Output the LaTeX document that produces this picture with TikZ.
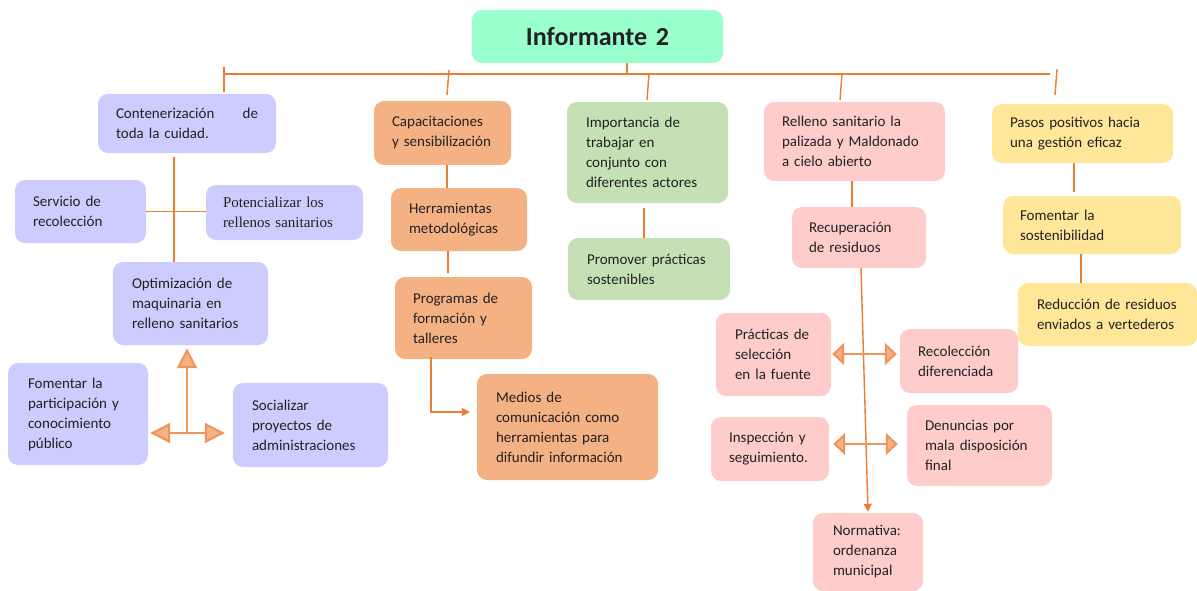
\documentclass[tikz,border=0pt]{standalone}
\usepackage{fontspec}
\setmainfont{Carlito}
\newfontfamily\potfont{Liberation Serif}
\usetikzlibrary{arrows.meta,calc}
\definecolor{lav}{HTML}{CCCCFF}
\definecolor{peach}{HTML}{F4B183}
\definecolor{grn}{HTML}{C5E0B4}
\definecolor{pnk}{HTML}{FFCCCC}
\definecolor{ylw}{HTML}{FFE699}
\definecolor{mint}{HTML}{99FFCC}
\definecolor{lineor}{HTML}{ED7D31}
\definecolor{arrline}{HTML}{F0945A}
\definecolor{txt}{HTML}{222222}
\begin{document}
\begin{tikzpicture}[x=1pt,y=-1pt,
  box/.style={rounded corners=10pt, inner xsep=18pt, inner ysep=2pt, align=left, text=txt,
    font=\fontsize{15}{20}\selectfont},
  conn/.style={draw=lineor, line width=1.4pt},
  bigtip/.style={arrows={Triangle[length=20pt,width=20pt,fill=peach]-Triangle[length=20pt,width=20pt,fill=peach]}},
  smalltip/.style={arrows={Triangle[length=12pt,width=22pt,fill=peach]-Triangle[length=12pt,width=22pt,fill=peach]}},
  dbl/.style={draw=arrline, line width=2pt},
  headarr/.style={-{Triangle[length=8pt,width=8pt]}}
]
\useasboundingbox (0,0) rectangle (1197,591);

% title
\node[box, fill=mint, text width=215pt, minimum height=53pt, align=center,
  font=\fontsize{26}{30}\selectfont\bfseries] (title) at (597.5,36.5) {Informante 2};

% column 1 (lavender)
\node[box, fill=lav, text width=142pt, minimum height=59pt] (conten) at (187,123.5)
  {\mbox{Contenerización}\hspace{\fill}de\\\mbox{toda la cuidad.}};
\node[box, fill=lav, text width=95pt, minimum height=63pt] (servicio) at (80.5,211.5)
  {\mbox{Servicio de}\\\mbox{recolección}};
\node[box, fill=lav, text width=123pt, inner xsep=17pt, minimum height=55pt,
  font=\fontsize{15}{20}\potfont] (potenc) at (284.5,212.5)
  {\mbox{Potencializar los}\\\mbox{rellenos sanitarios}};
\node[box, fill=lav, text width=117pt, inner xsep=19pt, minimum height=83pt] (optim) at (190.5,303.5)
  {\mbox{Optimización de}\\\mbox{maquinaria en}\\\mbox{relleno sanitarios}};
\node[box, fill=lav, text width=100pt, inner xsep=20pt, minimum height=102pt] (fompart) at (78,414)
  {\mbox{Fomentar la}\\\mbox{participación y}\\\mbox{conocimiento}\\\mbox{público}};
\node[box, fill=lav, text width=117pt, inner xsep=19pt, minimum height=84pt] (social) at (310.5,425)
  {\mbox{Socializar}\\\mbox{proyectos de}\\\mbox{administraciones}};

% column 2 (peach)
\node[box, fill=peach, text width=101pt, minimum height=64pt] (capac) at (442.5,133)
  {\mbox{Capacitaciones}\\\mbox{y sensibilización}};
\node[box, fill=peach, text width=100pt, minimum height=63pt] (herram) at (459,219.5)
  {\mbox{Herramientas}\\\mbox{metodológicas}};
\node[box, fill=peach, text width=101pt, minimum height=82pt] (program) at (463.5,318)
  {\mbox{Programas de}\\\mbox{formación y}\\\mbox{talleres}};
\node[box, fill=peach, text width=143pt, minimum height=106pt, inner xsep=19pt] (medios) at (567.5,427)
  {\mbox{Medios de}\\\mbox{comunicación como}\\\mbox{herramientas para}\\\mbox{difundir información}};

% column 3 (green)
\node[box, fill=grn, text width=123pt, inner xsep=19pt, minimum height=101pt] (import) at (647.5,152.5)
  {\mbox{Importancia de}\\\mbox{trabajar en}\\\mbox{conjunto con}\\\mbox{diferentes actores}};
\node[box, fill=grn, text width=124pt, inner xsep=19pt, minimum height=62pt] (promov) at (649,269)
  {\mbox{Promover prácticas}\\\mbox{sostenibles}};

% column 4 (pink)
\node[box, fill=pnk, text width=145pt, minimum height=79pt] (relleno) at (854.5,141.5)
  {\mbox{Relleno sanitario la}\\\mbox{palizada y Maldonado}\\\mbox{a cielo abierto}};
\node[box, fill=pnk, text width=100pt, inner xsep=17pt, minimum height=61pt] (recup) at (859,237.5)
  {\mbox{Recuperación}\\\mbox{de residuos}};
\node[box, fill=pnk, text width=77pt, inner xsep=19pt, minimum height=83pt] (practic) at (773.5,354.5)
  {\mbox{Prácticas de}\\\mbox{selección}\\\mbox{en la fuente}};
\node[box, fill=pnk, text width=82pt, minimum height=64pt] (recdif) at (959,361)
  {\mbox{Recolección}\\\mbox{diferenciada}};
\node[box, fill=pnk, text width=82pt, minimum height=64pt] (inspec) at (770,449)
  {\mbox{Inspección y}\\\mbox{seguimiento.}};
\node[box, fill=pnk, text width=109pt, minimum height=81pt] (denun) at (979.5,445.5)
  {\mbox{Denuncias por}\\\mbox{mala disposición}\\\mbox{final}};
\node[box, fill=pnk, text width=70pt, inner xsep=20pt, minimum height=78pt] (normat) at (868,552)
  {\mbox{Normativa:}\\\mbox{ordenanza}\\\mbox{municipal}};

% column 5 (yellow)
\node[box, fill=ylw, text width=145pt, minimum height=59pt] (pasos) at (1082.5,133.5)
  {\mbox{Pasos positivos hacia}\\\mbox{una gestión eficaz}};
\node[box, fill=ylw, text width=144pt, inner xsep=17pt, minimum height=58pt] (fomsost) at (1092,225)
  {\mbox{Fomentar la}\\\mbox{sostenibilidad}};
\node[box, fill=ylw, text width=141pt, inner xsep=19pt, minimum height=63pt] (reduc) at (1107.5,314.5)
  {\mbox{Reducción de residuos}\\\mbox{enviados a vertederos}};

% bus
\coordinate (bL) at (224,74);
\coordinate (bR) at (1050,74);
\coordinate (stem) at (627,74);
\draw[conn] (bL) -- (bR);
\draw[conn] (stem) -- (stem |- title.south);

\coordinate (t1a) at (224,67);  \coordinate (t1b) at (224,92);
\coordinate (t2a) at (449,70);  \coordinate (t2b) at (447,95);
\coordinate (t3a) at (649,74);  \coordinate (t3b) at (647,100);
\coordinate (t4a) at (842,74);  \coordinate (t4b) at (840,100);
\coordinate (t5a) at (1057,69); \coordinate (t5b) at (1055,95);
\draw[conn] (t1a) -- (t1b);
\draw[conn] (t2a) -- (t2b);
\draw[conn] (t3a) -- (t3b);
\draw[conn] (t4a) -- (t4b);
\draw[conn] (t5a) -- (t5b);

% column 1 connectors
\coordinate (c1x) at (174,0);
\draw[conn] ($(conten.south -| c1x)+(0,4)$) -- (optim.north -| c1x);
\draw[conn] (servicio.east) -- (servicio.east -| potenc.west);
\coordinate (hub) at (187,433);
\draw[dbl, -{Triangle[length=20pt,width=20pt,fill=peach]}] (hub) -- ($(optim.south -| hub)+(0,3)$);
\draw[dbl, bigtip] ($(fompart.east |- hub)+(2,0)$) -- ($(social.west |- hub)+(-8,0)$);

% column 2 connectors
\coordinate (c2x) at (447,0);
\draw[conn] (capac.south -| c2x) -- (herram.north -| c2x);
\coordinate (c2y) at (448,0);
\draw[conn] (herram.south -| c2y) -- ($(program.north -| c2y)+(0,-4)$);
\coordinate (pm) at (431,412);
\draw[conn, headarr, shorten >=7pt] ($(program.south -| pm)+(0,-2)$) |- (medios.west |- pm);

% column 3 connectors
\coordinate (c3x) at (644,0);
\draw[conn] ($(import.south -| c3x)+(0,5)$) -- (promov.north -| c3x);

% column 4 connectors
\coordinate (c4x) at (852,0);
\draw[conn] (relleno.south -| c4x) -- (recup.north -| c4x);
\coordinate (ra) at (861,268);
\coordinate (rb) at (868,0);
\draw[conn, headarr] (ra) -- ($(normat.north -| rb)+(0,-1)$);
\coordinate (y1) at (0,354);
\draw[dbl, smalltip] ($(practic.east |- y1)+(1,0)$) -- ($(recdif.west |- y1)+(-3,0)$);
\coordinate (y2) at (0,444);
\draw[dbl, smalltip] ($(inspec.east |- y2)+(4,0)$) -- ($(denun.west |- y2)+(-9,0)$);

% column 5 connectors
\coordinate (c5x) at (1074,0);
\draw[conn] (pasos.south -| c5x) -- ($(fomsost.north -| c5x)+(0,-4)$);
\coordinate (c6x) at (1081,0);
\draw[conn] (fomsost.south -| c6x) -- (reduc.north -| c6x);
\end{tikzpicture}
\end{document}
